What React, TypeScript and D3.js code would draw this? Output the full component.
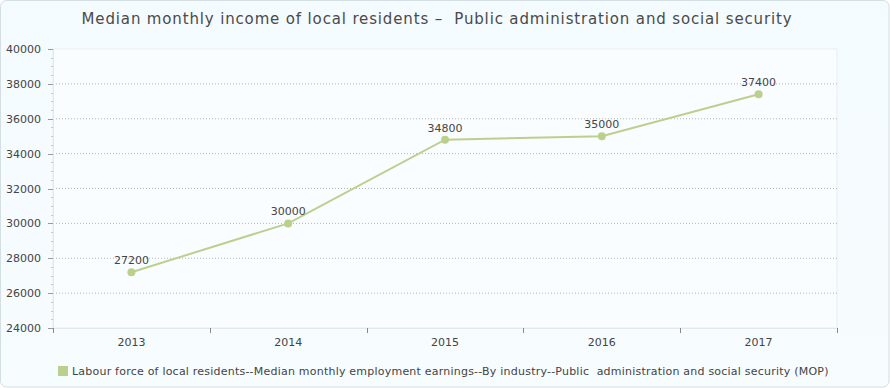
import React from "react";
import * as d3 from "d3";

const years = ["2013", "2014", "2015", "2016", "2017"];
const values = [27200, 30000, 34800, 35000, 37400];
const yTicks = [24000, 26000, 28000, 30000, 32000, 34000, 36000, 38000, 40000];
const title = "Median monthly income of local residents \u2013  Public administration and social security";
const legendLabel = "Labour force of local residents--Median monthly employment earnings--By industry--Public  administration and social security (MOP)";

const W = 890, H = 388;
const M = { left: 53, right: 837, top: 49, bottom: 328 };
const green = "#bcd08e";
const font = "DejaVu Sans, Verdana, sans-serif";

export default function App() {
  const x = d3.scaleBand<string>().domain(years).range([M.left, M.right]);
  const y = d3.scaleLinear().domain([24000, 40000]).range([M.bottom, M.top]);
  const minor = d3.range(24000, 40001, 500).filter((v) => v % 2000 !== 0);
  const line = d3.line<number>()
    .x((_, i) => (x(years[i]) as number) + x.bandwidth() / 2)
    .y((d) => y(d));
  const bounds = [...years.map((yr) => x(yr) as number), M.right];
  return (
    <div style={{ position: "absolute", left: 0, top: 0 }}>
      <svg width={W} height={H} style={{ display: "block" }}>
        <defs>
          <linearGradient id="bg" x1="0" y1="0" x2="0" y2="1">
            <stop offset="0" stopColor="#f4fbfe" />
            <stop offset="1" stopColor="#f7fcfe" />
          </linearGradient>
        </defs>
        <rect x={0.5} y={0.5} width={W - 1.5} height={H - 1.5} rx={6} fill="url(#bg)" stroke="#d3dfe3" />
        <rect x={M.left} y={M.top} width={M.right - M.left} height={M.bottom - M.top} fill="#f9fdff" stroke="#e8eef0" />
        <text x={437} y={24} textAnchor="middle" fontFamily={font} fontSize={15} fill="#4a4a4a" style={{ letterSpacing: "0.85px", whiteSpace: "pre" }}>{title}</text>
        {yTicks.filter((t) => t !== 24000 && t !== 40000).map((t) => (
          <line key={t} x1={M.left} x2={M.right} y1={y(t)} y2={y(t)} stroke="#b5b5b5" strokeDasharray="1,2" />
        ))}
        <line x1={M.left} x2={M.right} y1={M.bottom + 0.5} y2={M.bottom + 0.5} stroke="#e3e8ea" />
        <line x1={M.left + 0.5} x2={M.left + 0.5} y1={M.top} y2={M.bottom} stroke="#e3e8ea" />
        {minor.map((t) => (
          <line key={t} x1={M.left - 2} x2={M.left} y1={Math.round(y(t)) + 0.5} y2={Math.round(y(t)) + 0.5} stroke="#c8c8c8" />
        ))}
        {yTicks.map((t) => (
          <g key={t}>
            <line x1={M.left - 5} x2={M.left} y1={Math.round(y(t)) + 0.5} y2={Math.round(y(t)) + 0.5} stroke="#999" />
            <text x={M.left - 12} y={y(t) + 4} textAnchor="end" fontFamily={font} fontSize={11} fill="#444">{t}</text>
          </g>
        ))}
        {bounds.map((b, i) => (
          <line key={i} x1={Math.round(b) + 0.5} x2={Math.round(b) + 0.5} y1={M.bottom} y2={M.bottom + 5} stroke="#888" />
        ))}
        {years.map((yr) => (
          <text key={yr} x={(x(yr) as number) + x.bandwidth() / 2} y={346} textAnchor="middle" fontFamily={font} fontSize={11} fill="#444">{yr}</text>
        ))}
        <path d={line(values) as string} fill="none" stroke={green} strokeWidth={2} />
        {values.map((v, i) => {
          const cx = (x(years[i]) as number) + x.bandwidth() / 2;
          return (
            <g key={i}>
              <circle cx={cx} cy={y(v)} r={4} fill={green} />
              <text x={cx} y={y(v) - 8} textAnchor="middle" fontFamily={font} fontSize={11} fill="#444">{v}</text>
            </g>
          );
        })}
        <rect x={58} y={366} width={10} height={10} fill={green} />
        <text x={72} y={375} fontFamily={font} fontSize={11} fill="#444" style={{ letterSpacing: "0.22px", whiteSpace: "pre" }}>{legendLabel}</text>
      </svg>
    </div>
  );
}
